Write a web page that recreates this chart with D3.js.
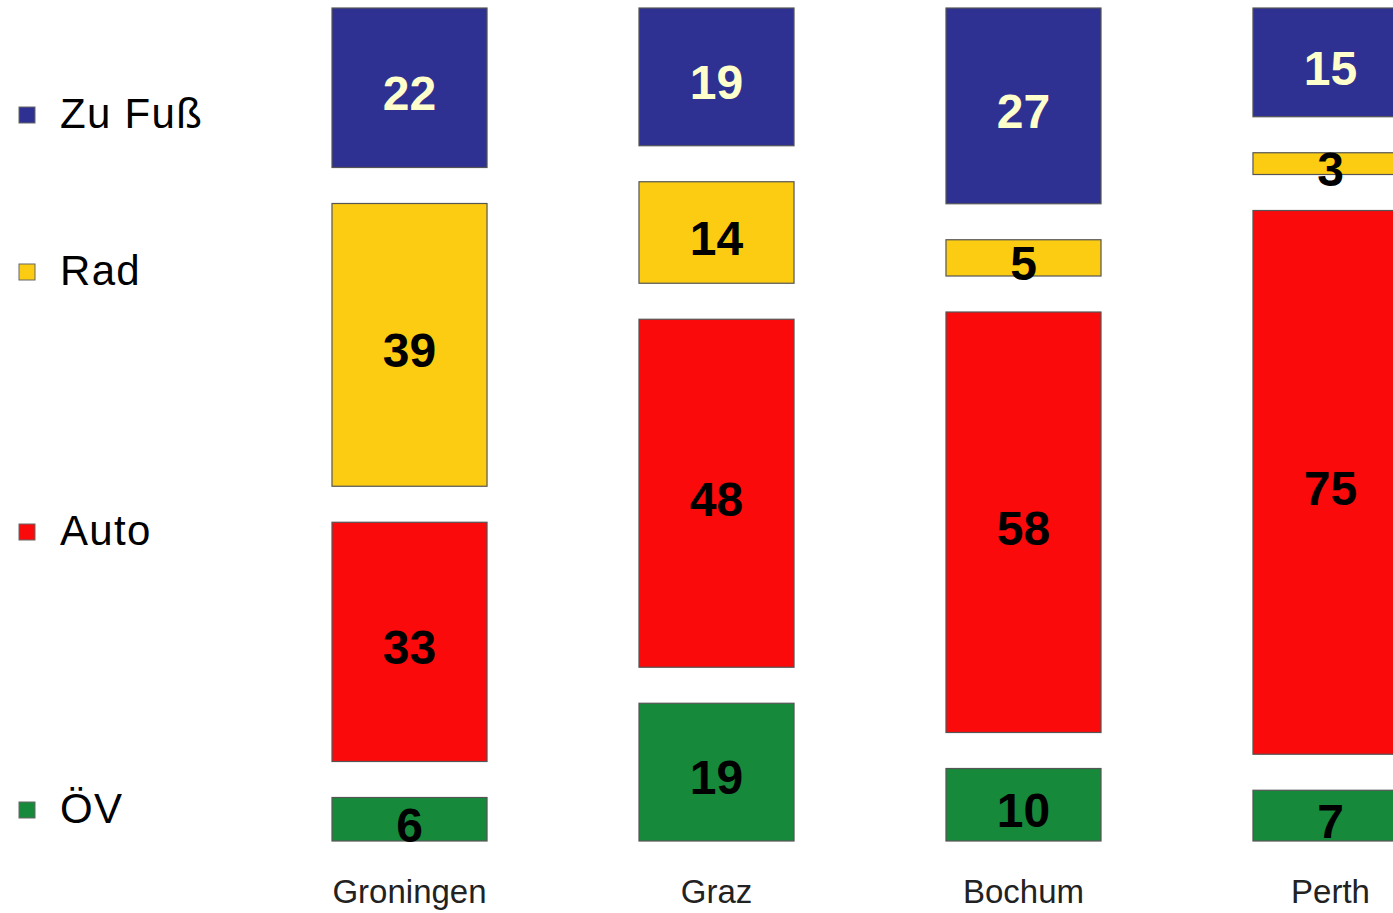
<!DOCTYPE html>
<html>
<head>
<meta charset="utf-8">
<script src="https://cdn.jsdelivr.net/npm/d3@7"></script>
<style>
  html, body { margin: 0; padding: 0; background: #fff; }
  svg { display: block; font-family: "Liberation Sans", Arial, sans-serif; }
</style>
</head>
<body>
<div id="chart"></div>
<script>
// data
var cities = ["Groningen", "Graz", "Bochum", "Perth"];
var modes = ["Zu Fuß", "Rad", "Auto", "ÖV"];
var zuFuss = [22, 19, 27, 15];
var rad = [39, 14, 5, 3];
var auto = [33, 48, 58, 75];
var oev = [6, 19, 10, 7];

var colors = ["#2f3192", "#fccc12", "#fa0a0a", "#17893a"];
var labelColors = ["#ffffcc", "#000", "#000", "#000"];

var width = 1393, height = 913;
var gap = 36;              // white gap between stacked segments
var bottom = 841, plotH = 725;

var svg = d3.select("#chart").append("svg")
    .attr("width", width)
    .attr("height", height);

// scales
var x = d3.scaleBand()
    .domain(cities)
    .range([332, 1408])
    .paddingInner(0.495)
    .paddingOuter(0);

var y = d3.scaleLinear()
    .domain([0, 100])
    .range([bottom, bottom - plotH]);

var series = [zuFuss, rad, auto, oev];

// build segments, stacking from the bottom (ÖV first)
var segs = [];
cities.forEach(function(c, ci) {
  var cum = 0;
  for (var k = 3; k >= 0; k--) {
    var v = series[k][ci];
    var level = 3 - k;
    segs.push({
      city: c, mode: k, value: v,
      y0: y(cum) - level * gap,
      y1: y(cum + v) - level * gap
    });
    cum += v;
  }
});

svg.selectAll("rect.seg")
    .data(segs)
  .enter().append("rect")
    .attr("class", "seg")
    .attr("x", function(d) { return x(d.city); })
    .attr("width", x.bandwidth())
    .attr("y", function(d) { return d.y1; })
    .attr("height", function(d) { return d.y0 - d.y1; })
    .attr("fill", function(d) { return colors[d.mode]; })
    .attr("stroke", "#555")
    .attr("stroke-width", 1.2);

svg.selectAll("text.val")
    .data(segs)
  .enter().append("text")
    .attr("class", "val")
    .attr("x", function(d) { return x(d.city) + x.bandwidth() / 2; })
    .attr("y", function(d) { return (d.y0 + d.y1) / 2 + 5; })
    .attr("dy", "0.36em")
    .attr("text-anchor", "middle")
    .style("font-size", "48px")
    .style("font-weight", "bold")
    .attr("fill", function(d) { return labelColors[d.mode]; })
    .text(function(d) { return d.value; });

// category labels
svg.selectAll("text.cat")
    .data(cities)
  .enter().append("text")
    .attr("class", "cat")
    .attr("x", function(d) { return x(d) + x.bandwidth() / 2; })
    .attr("y", 903)
    .attr("text-anchor", "middle")
    .style("font-size", "33px")
    .attr("fill", "#222")
    .text(function(d) { return d; });

// legend
var legendY = [113, 270, 530, 808];
var leg = svg.selectAll("g.leg")
    .data(modes)
  .enter().append("g")
    .attr("class", "leg")
    .attr("transform", function(d, i) { return "translate(0," + legendY[i] + ")"; });

leg.append("rect")
    .attr("x", 19)
    .attr("y", -6)
    .attr("width", 16)
    .attr("height", 16)
    .attr("fill", function(d, i) { return colors[i]; })
    .attr("stroke", "#666")
    .attr("stroke-width", 1);

leg.append("text")
    .attr("x", 60)
    .attr("y", 0)
    .attr("dy", "0.36em")
    .style("font-size", "42px")
    .style("letter-spacing", "1.3px")
    .attr("fill", "#000")
    .text(function(d) { return d; });
</script>
</body>
</html>
